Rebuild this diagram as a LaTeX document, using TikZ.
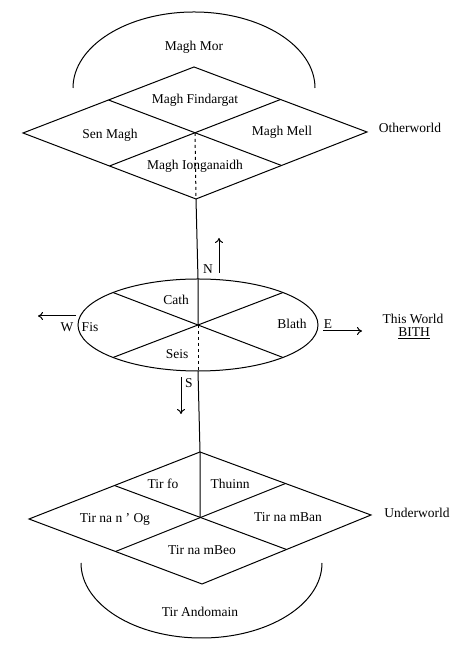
\documentclass[tikz,border=0pt]{standalone}
\usepackage{fontspec}
\setmainfont{Liberation Serif}
\usetikzlibrary{calc,arrows.meta}
\tikzset{
	world/.style={line width=1pt},
	place/.style={font=\fontsize{13.5}{15}\selectfont, inner sep=1pt},
	wayout/.style={world, -{To[length=5pt,width=8pt]}}
}
\begin{document}
\begin{tikzpicture}[x=1pt, y=1pt]
		\useasboundingbox (0,0) rectangle (474,663);
		% Otherworld
		\coordinate (ot) at (194, 596);
		\coordinate (ol) at (23, 530);
		\coordinate (or) at (367, 531);
		\coordinate (ob) at (196, 464);
		\coordinate (oc) at (195, 530);
		\draw[world] (ot) -- (or) -- (ob) -- (ol) -- cycle;
		\draw[world] ($(ol)!0.5!(ot)$) -- ($(or)!0.5!(ob)$);
		\draw[world] ($(ot)!0.5!(or)$) -- ($(ob)!0.5!(ol)$);
		\draw[world, dashed] (oc) -- (ob);
		\draw[world] (73, 575) arc[start angle=180, end angle=0, x radius=121, y radius=76];
		\node [place] (mor) at (194, 616) {Magh Mor};
		\node [place] (findargat) at (195, 563) {Magh Findargat};
		\node [place] (senmagh) at (110, 528) {Sen Magh};
		\node [place] (mell) at (282, 531) {Magh Mell};
		\node [place] (ionganaidh) at (195, 497) {Magh Ionganaidh};
		\node [place] (other) at (410, 535) {Otherworld};
		% This World
		\coordinate (tt) at (198, 384);
		\coordinate (tb) at (198, 292);
		\coordinate (tc) at (198, 338);
		\draw[world] (tc) ellipse[x radius=120, y radius=46];
		\draw[world] (113, 370.5) -- (283, 305.5);
		\draw[world] (283, 370.5) -- (113, 305.5);
		\draw[world] (ob) -- (tt) -- (tc);
		\draw[world, dashed] (tc) -- (tb);
		\node [place] (cath) at (176, 363) {Cath};
		\node [place] (blath) at (292, 339) {Blath};
		\node [place] (seis) at (177, 309) {Seis};
		\node [place] (fis) at (90, 336) {Fis};
		\coordinate (n0) at (219, 390);
		\coordinate (n1) at (219, 425);
		\coordinate (s0) at (181, 286);
		\coordinate (s1) at (181, 249);
		\coordinate (w0) at (76, 347);
		\coordinate (w1) at (38, 347);
		\coordinate (e0) at (323, 332);
		\coordinate (e1) at (362, 332);
		\draw[wayout] (n0) -- (n1);
		\draw[wayout] (s0) -- (s1);
		\draw[wayout] (w0) -- (w1);
		\draw[wayout] (e0) -- (e1);
		\node [place] (north) at (208, 394) {N};
		\node [place] (south) at (189, 280) {S};
		\node [place] (west) at (67, 336) {W};
		\node [place] (east) at (328, 339) {E};
		\node [place] (thisworld) at (413, 344) {This World};
		\node [place] (bith) at (414, 330) {\underline{BITH}};
		% Underworld
		\coordinate (ut) at (200, 211);
		\coordinate (ul) at (29, 144);
		\coordinate (ur) at (371, 148);
		\coordinate (ub) at (202, 79);
		\coordinate (uc) at (200, 145);
		\draw[world] (ut) -- (ur) -- (ub) -- (ul) -- cycle;
		\draw[world] ($(ul)!0.5!(ut)$) -- ($(ur)!0.5!(ub)$);
		\draw[world] ($(ut)!0.5!(ur)$) -- ($(ub)!0.5!(ul)$);
		\draw[world] (tb) -- (ut) -- (uc);
		\draw[world] (81, 100) arc[start angle=180, end angle=360, x radius=120.5, y radius=75];
		\node [place] (tirfo) at (163, 179) {Tir fo};
		\node [place] (thuinn) at (230, 179) {Thuinn};
		\node [place] (nanog) at (115, 144) {Tir na n ' Og};
		\node [place] (mban) at (288, 146) {Tir na mBan};
		\node [place] (mbeo) at (202, 113) {Tir na mBeo};
		\node [place] (under) at (417, 150) {Underworld};
		\node [place] (andomain) at (200, 51) {Tir Andomain};
\end{tikzpicture}
\end{document}
